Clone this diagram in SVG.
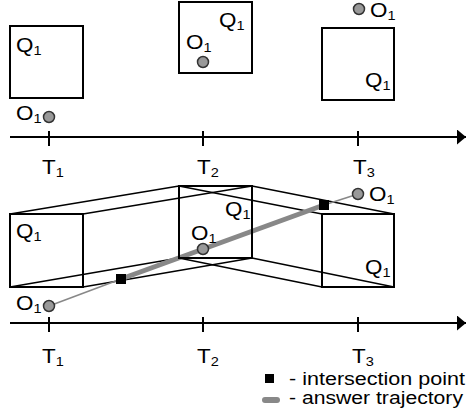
<svg xmlns="http://www.w3.org/2000/svg" width="466" height="417" viewBox="0 0 466 417">
<style>
.box{fill:none;stroke:#000;stroke-width:2}
.tube{stroke:#000;stroke-width:1.3;fill:none}
.axis{stroke:#000;stroke-width:2;fill:none}
.tick{stroke:#000;stroke-width:2}
.obj{fill:#999;stroke:#333;stroke-width:1.5}
.thin{stroke:#888;stroke-width:1.5;fill:none}
.thick{stroke:#888;stroke-width:5;fill:none}
.isect{fill:#000}
text{font-family:"Liberation Sans",Arial,sans-serif;font-size:20px;fill:#000}
.sub{font-size:13px}
.leg{font-size:17.5px}
</style>
<defs>
<marker id="arr" markerUnits="userSpaceOnUse" markerWidth="10" markerHeight="16" refX="9" refY="7.5" orient="auto">
<path d="M0,0 L9,7.5 L0,15 z" fill="#000"/>
</marker>
</defs>

<!-- top scene -->
<g id="top-axis">
<line class="axis" x1="10" y1="137" x2="466" y2="137" marker-end="url(#arr)"/>
<line class="tick" x1="49" y1="131" x2="49" y2="146"/>
<line class="tick" x1="203" y1="131" x2="203" y2="146"/>
<line class="tick" x1="358" y1="131" x2="358" y2="146"/>
<text transform="translate(42,174) scale(1.12,1)">T<tspan class="sub" dy="3">1</tspan></text>
<text transform="translate(197,174) scale(1.12,1)">T<tspan class="sub" dy="3">2</tspan></text>
<text transform="translate(353,174) scale(1.12,1)">T<tspan class="sub" dy="3">3</tspan></text>
</g>
<g id="top-q1-t1">
<rect class="box" x="10" y="26" width="73" height="72"/>
<text transform="translate(16,52) scale(1.12,1)">Q<tspan class="sub" dy="3">1</tspan></text>
</g>
<g id="top-o1-t1">
<circle class="obj" cx="49" cy="117" r="5.5"/>
<text transform="translate(16,120) scale(1.12,1)">O<tspan class="sub" dy="3">1</tspan></text>
</g>
<g id="top-q1-t2">
<rect class="box" x="179" y="2" width="73" height="71"/>
<text transform="translate(219,27) scale(1.12,1)">Q<tspan class="sub" dy="3">1</tspan></text>
</g>
<g id="top-o1-t2">
<circle class="obj" cx="203" cy="62" r="5.5"/>
<text transform="translate(186,49) scale(1.12,1)">O<tspan class="sub" dy="3">1</tspan></text>
</g>
<g id="top-q1-t3">
<rect class="box" x="322" y="28" width="72" height="72"/>
<text transform="translate(365,87) scale(1.12,1)">Q<tspan class="sub" dy="3">1</tspan></text>
</g>
<g id="top-o1-t3">
<circle class="obj" cx="359" cy="9" r="5.5"/>
<text transform="translate(370,17) scale(1.12,1)">O<tspan class="sub" dy="3">1</tspan></text>
</g>

<!-- bottom scene -->
<g id="connectors">
<line class="tube" x1="10" y1="214" x2="179" y2="186"/>
<line class="tube" x1="83" y1="214" x2="252" y2="186"/>
<line class="tube" x1="10" y1="287" x2="179" y2="258"/>
<line class="tube" x1="83" y1="287" x2="252" y2="258"/>
<line class="tube" x1="179" y1="186" x2="322" y2="214"/>
<line class="tube" x1="252" y1="186" x2="394" y2="214"/>
<line class="tube" x1="179" y1="258" x2="322" y2="287"/>
<line class="tube" x1="252" y1="258" x2="394" y2="287"/>
<line class="thin" x1="49" y1="306" x2="121" y2="279"/>
<line class="thick" x1="121" y1="279" x2="324" y2="205"/>
<line class="thin" x1="324" y1="205" x2="358" y2="194"/>
</g>
<g id="bottom-axis">
<line class="axis" x1="10" y1="323" x2="466" y2="323" marker-end="url(#arr)"/>
<line class="tick" x1="49" y1="317" x2="49" y2="332"/>
<line class="tick" x1="203" y1="317" x2="203" y2="332"/>
<line class="tick" x1="358" y1="317" x2="358" y2="332"/>
<text transform="translate(42,363) scale(1.12,1)">T<tspan class="sub" dy="3">1</tspan></text>
<text transform="translate(197,363) scale(1.12,1)">T<tspan class="sub" dy="3">2</tspan></text>
<text transform="translate(352,363) scale(1.12,1)">T<tspan class="sub" dy="3">3</tspan></text>
</g>
<g id="bottom-q1-t1">
<rect class="box" x="10" y="214" width="73" height="73"/>
<text transform="translate(16,238) scale(1.12,1)">Q<tspan class="sub" dy="3">1</tspan></text>
</g>
<g id="bottom-q1-t2">
<rect class="box" x="179" y="186" width="73" height="72"/>
<text transform="translate(225,216) scale(1.12,1)">Q<tspan class="sub" dy="3">1</tspan></text>
</g>
<g id="bottom-q1-t3">
<rect class="box" x="322" y="214" width="72" height="73"/>
<text transform="translate(365,274) scale(1.12,1)">Q<tspan class="sub" dy="3">1</tspan></text>
</g>
<g id="bottom-o1-t1">
<circle class="obj" cx="49" cy="306" r="5.5"/>
<text transform="translate(16,310) scale(1.12,1)">O<tspan class="sub" dy="3">1</tspan></text>
</g>
<g id="bottom-o1-t2">
<circle class="obj" cx="203" cy="249" r="5.5"/>
<text transform="translate(191,240) scale(1.12,1)">O<tspan class="sub" dy="3">1</tspan></text>
</g>
<g id="bottom-o1-t3">
<circle class="obj" cx="358" cy="194" r="5.5"/>
<text transform="translate(369,201) scale(1.12,1)">O<tspan class="sub" dy="3">1</tspan></text>
</g>
<g id="isect-1"><rect class="isect" x="116" y="274" width="10" height="10"/></g>
<g id="isect-2"><rect class="isect" x="319" y="200" width="10" height="10"/></g>

<g id="legend">
<rect class="isect" x="265" y="374" width="9" height="9"/>
<text class="leg" x="289" y="385" textLength="176" lengthAdjust="spacingAndGlyphs">- intersection point</text>
<line x1="265" y1="400" x2="277" y2="400" stroke="#888" stroke-width="6" stroke-linecap="round"/>
<text class="leg" x="289" y="404" textLength="174" lengthAdjust="spacingAndGlyphs">- answer trajectory</text>
</g>
</svg>
